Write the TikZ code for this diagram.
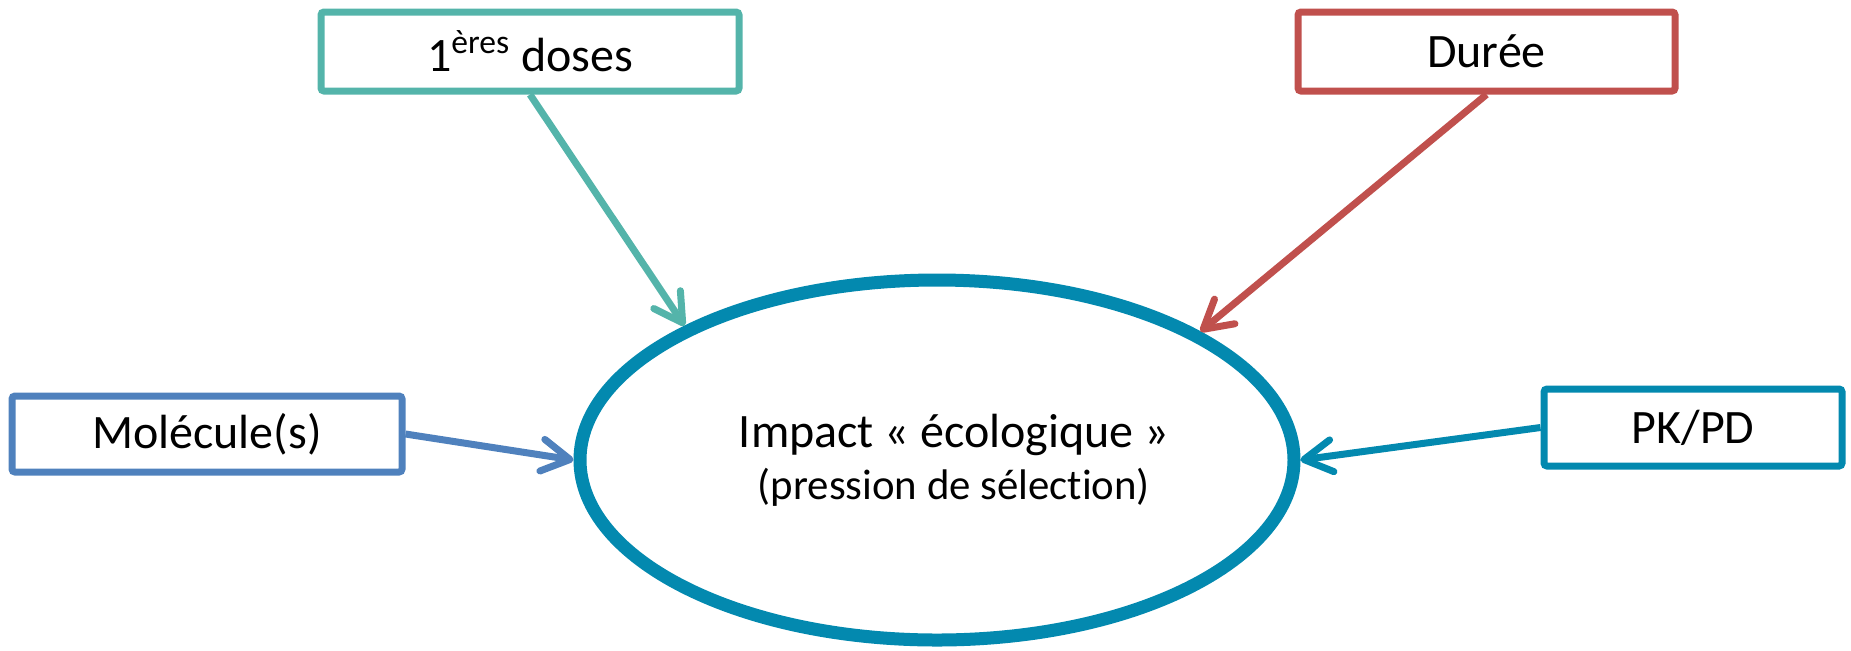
\documentclass[tikz,border=0pt]{standalone}
\usepackage{fontspec}
\setmainfont{Carlito}[Ligatures=NoCommon]
\usetikzlibrary{shapes.geometric}
\usetikzlibrary{arrows.meta}
\definecolor{doseteal}{RGB}{84,180,170}
\definecolor{dureered}{RGB}{192,80,77}
\definecolor{molblue}{RGB}{79,129,189}
\definecolor{petrol}{RGB}{3,137,175}
\tikzset{
>={Straight Barb[length=14pt,width=16pt,round]}, % open arrow heads
my node/.style={draw,rectangle,rounded corners=1.5pt,line width=3.5pt,inner sep=0pt,
  font=\fontsize{24}{29}\selectfont},
my impact/.style={draw=petrol,ellipse,line width=6.5pt,minimum width=357pt,
  minimum height=180pt,inner sep=0pt,align=center},
my arrow/.style={->,line width=3.5pt}
}
\begin{document}
\begin{tikzpicture}[x=0.5pt,y=-0.5pt]
\useasboundingbox (0,0) rectangle (1851,650);
\node[my impact] (imp) at (937,460) {{\fontsize{24}{29}\selectfont\hspace*{17pt}Impact « écologique »}\\[5pt]
  {\fontsize{21.4}{25}\selectfont\hspace*{17pt}(pression de sélection)}};
\node[my node,draw=doseteal,minimum width=209pt,minimum height=39.5pt] (dose) at (530,51.5) {1\textsuperscript{ères} doses};
\node[my node,draw=dureered,minimum width=188.5pt,minimum height=39.5pt] (duree) at (1486.5,51.5) {Durée};
\node[my node,draw=molblue,minimum width=195pt,minimum height=38pt] (mol) at (207,434) {Molécule(s)};
\node[my node,draw=petrol,minimum width=149pt,minimum height=38.5pt] (pkpd) at (1693,427.5) {PK/PD};
\path[my arrow]
  (dose.south) edge[doseteal] (imp.152.5)
  (duree.south) edge[dureered] (imp.26.6)
  (mol.east) edge[molblue] (imp.180)
  (pkpd.west) edge[petrol] (imp.0.5);
\end{tikzpicture}
\end{document}
